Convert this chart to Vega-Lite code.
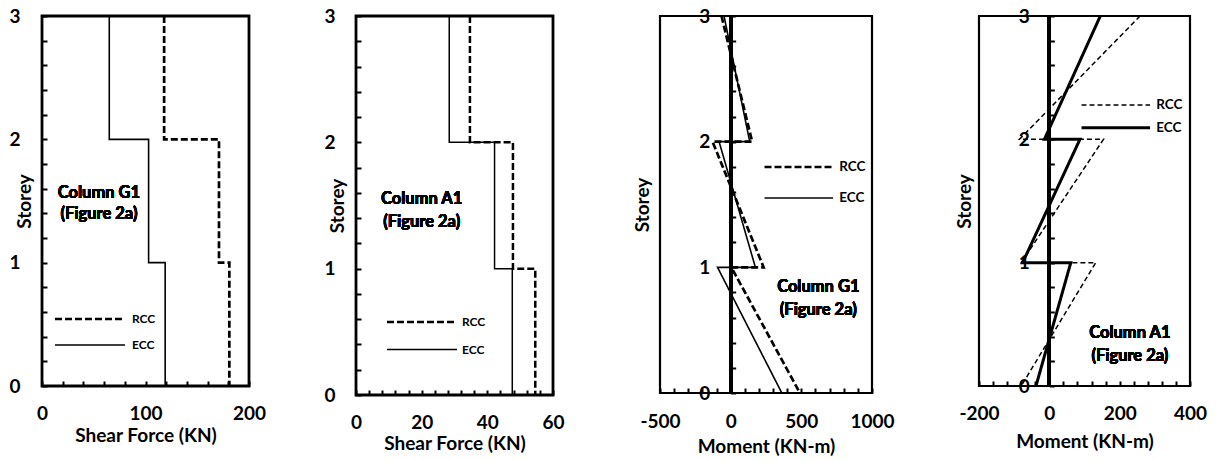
{
  "$schema": "https://vega.github.io/schema/vega-lite/v6.json",
  "background": "white",
  "padding": {"left": 7, "top": 5, "right": 5, "bottom": 0},
  "config": {
    "font": "Lato",
    "view": {"stroke": "black", "strokeWidth": 2.8},
    "axis": {
      "labelFont": "Lato", "labelFontWeight": "bold", "labelFontSize": 19, "labelColor": "black",
      "titleFont": "Lato", "titleFontWeight": "bold", "titleFontSize": 19, "titleColor": "black",
      "domain": false, "tickColor": "black", "tickWidth": 2, "tickSize": 5,
      "grid": false, "labelOverlap": false, "labelFlush": false, "labelBound": false
    },
    "text": {"font": "Lato", "fontWeight": "bold", "color": "black"}
  },
  "bounds": "flush",
  "spacing": 107,
  "resolve": {
    "scale": {"strokeDash": "independent", "strokeWidth": "independent"},
    "legend": {"strokeDash": "independent", "strokeWidth": "independent"}
  },
  "hconcat": [
    {
      "width": 207, "height": 370,
      "data": {"values": [
        {"series": "ECC", "step": 1, "shear": 65, "storey": 3},
        {"series": "ECC", "step": 2, "shear": 65, "storey": 2},
        {"series": "ECC", "step": 3, "shear": 103, "storey": 2},
        {"series": "ECC", "step": 4, "shear": 103, "storey": 1},
        {"series": "ECC", "step": 5, "shear": 119, "storey": 1},
        {"series": "ECC", "step": 6, "shear": 119, "storey": 0},
        {"series": "RCC", "step": 1, "shear": 118, "storey": 3},
        {"series": "RCC", "step": 2, "shear": 118, "storey": 2},
        {"series": "RCC", "step": 3, "shear": 171, "storey": 2},
        {"series": "RCC", "step": 4, "shear": 171, "storey": 1},
        {"series": "RCC", "step": 5, "shear": 181, "storey": 1},
        {"series": "RCC", "step": 6, "shear": 181, "storey": 0}
      ]},
      "layer": [
        {
          "mark": {"type": "line", "color": "black"},
          "encoding": {
            "x": {"field": "shear", "type": "quantitative",
              "scale": {"domain": [0, 200], "nice": false, "zero": false},
              "axis": {"title": "Shear Force (KN)", "offset": -5, "labelOverlap": false, "tickCount": 100,
                "values": [0, 20, 40, 60, 80, 100, 120, 140, 160, 180, 200],
                "labelExpr": "datum.value % 100 === 0 ? '' + datum.value : ''",
                "labelBaseline": "middle", "labelPadding": 27,
                "titleBaseline": "middle", "titleY": 54}},
            "y": {"field": "storey", "type": "quantitative",
              "scale": {"domain": [0, 3], "nice": false},
              "axis": {"title": "Storey", "offset": -5, "labelOverlap": false, "tickCount": 100,
                "values": [0, 0.2, 0.4, 0.6, 0.8, 1, 1.2, 1.4, 1.6, 1.8, 2, 2.2, 2.4, 2.6, 2.8, 3],
                "labelExpr": "datum.value % 1 === 0 ? '' + datum.value : ''",
                "labelPadding": 22, "titleBaseline": "middle", "titleX": -23}},
            "order": {"field": "step", "type": "quantitative"},
            "strokeDash": {"field": "series", "type": "nominal",
              "scale": {"domain": ["RCC", "ECC"], "range": [[7, 3], [1, 0]]},
              "legend": {"title": null, "orient": "none", "legendX": 11.5, "legendY": 296, "padding": 0,
                "symbolType": "stroke", "symbolSize": 4900, "symbolStrokeColor": "black",
                "clipHeight": 14, "rowPadding": 12, "labelOffset": 5.5,
                "labelFont": "Lato", "labelFontWeight": "bold", "labelFontSize": 12, "labelColor": "black"}},
            "strokeWidth": {"field": "series", "type": "nominal",
              "scale": {"domain": ["RCC", "ECC"], "range": [2.7, 1.6]},
              "legend": {"title": null, "orient": "none", "legendX": 11.5, "legendY": 296, "padding": 0,
                "symbolType": "stroke", "symbolSize": 4900, "symbolStrokeColor": "black",
                "clipHeight": 14, "rowPadding": 12, "labelOffset": 5.5,
                "labelFont": "Lato", "labelFontWeight": "bold", "labelFontSize": 12, "labelColor": "black"}}
          }
        },
        {
          "mark": {"type": "text", "fontSize": 16.5, "lineHeight": 21, "align": "center", "baseline": "middle"},
          "encoding": {"x": {"datum": 55}, "y": {"datum": 1.563}, "text": {"value": ["Column G1", "(Figure 2a)"]}}
        }
      ]
    },
    {
      "width": 197, "height": 379,
      "data": {"values": [
        {"series": "ECC", "step": 1, "shear": 28.4, "storey": 3},
        {"series": "ECC", "step": 2, "shear": 28.4, "storey": 2},
        {"series": "ECC", "step": 3, "shear": 42.2, "storey": 2},
        {"series": "ECC", "step": 4, "shear": 42.2, "storey": 1},
        {"series": "ECC", "step": 5, "shear": 47.6, "storey": 1},
        {"series": "ECC", "step": 6, "shear": 47.6, "storey": 0},
        {"series": "RCC", "step": 1, "shear": 34.7, "storey": 3},
        {"series": "RCC", "step": 2, "shear": 34.7, "storey": 2},
        {"series": "RCC", "step": 3, "shear": 47.8, "storey": 2},
        {"series": "RCC", "step": 4, "shear": 47.8, "storey": 1},
        {"series": "RCC", "step": 5, "shear": 54.6, "storey": 1},
        {"series": "RCC", "step": 6, "shear": 54.6, "storey": 0}
      ]},
      "layer": [
        {
          "mark": {"type": "line", "color": "black"},
          "encoding": {
            "x": {"field": "shear", "type": "quantitative",
              "scale": {"domain": [0, 60], "nice": false, "zero": false},
              "axis": {"title": "Shear Force (KN)", "offset": -5, "labelOverlap": false, "tickCount": 100,
                "values": [0, 4, 8, 12, 16, 20, 24, 28, 32, 36, 40, 44, 48, 52, 56, 60],
                "labelExpr": "datum.value % 20 === 0 ? '' + datum.value : ''",
                "labelBaseline": "middle", "labelPadding": 27,
                "titleBaseline": "middle", "titleY": 53}},
            "y": {"field": "storey", "type": "quantitative",
              "scale": {"domain": [0, 3], "nice": false},
              "axis": {"title": "Storey", "offset": -5, "labelOverlap": false, "tickCount": 100,
                "values": [0, 0.2, 0.4, 0.6, 0.8, 1, 1.2, 1.4, 1.6, 1.8, 2, 2.2, 2.4, 2.6, 2.8, 3],
                "labelExpr": "datum.value % 1 === 0 ? '' + datum.value : ''",
                "labelPadding": 21, "titleBaseline": "middle", "titleX": -24}},
            "order": {"field": "step", "type": "quantitative"},
            "strokeDash": {"field": "series", "type": "nominal",
              "scale": {"domain": ["RCC", "ECC"], "range": [[7, 3], [1, 0]]},
              "legend": {"title": null, "orient": "none", "legendX": 29.5, "legendY": 299, "padding": 0,
                "symbolType": "stroke", "symbolSize": 4900, "symbolStrokeColor": "black",
                "clipHeight": 14, "rowPadding": 13.6, "labelOffset": 3.5,
                "labelFont": "Lato", "labelFontWeight": "bold", "labelFontSize": 12, "labelColor": "black"}},
            "strokeWidth": {"field": "series", "type": "nominal",
              "scale": {"domain": ["RCC", "ECC"], "range": [2.5, 1.5]},
              "legend": {"title": null, "orient": "none", "legendX": 29.5, "legendY": 299, "padding": 0,
                "symbolType": "stroke", "symbolSize": 4900, "symbolStrokeColor": "black",
                "clipHeight": 14, "rowPadding": 13.6, "labelOffset": 3.5,
                "labelFont": "Lato", "labelFontWeight": "bold", "labelFontSize": 12, "labelColor": "black"}}
          }
        },
        {
          "mark": {"type": "text", "fontSize": 16.5, "lineHeight": 23, "align": "center", "baseline": "middle"},
          "encoding": {"x": {"datum": 20}, "y": {"datum": 1.549}, "text": {"value": ["Column A1", "(Figure 2a)"]}}
        }
      ]
    },
    {
      "width": 212, "height": 377,
      "view": {"stroke": "black", "strokeWidth": 2.2},
      "data": {"values": [
        {"series": "ECC", "step": 1, "moment": -47, "storey": 3},
        {"series": "ECC", "step": 2, "moment": 135, "storey": 2},
        {"series": "ECC", "step": 3, "moment": -82, "storey": 2},
        {"series": "ECC", "step": 4, "moment": 175, "storey": 1},
        {"series": "ECC", "step": 5, "moment": -93, "storey": 1},
        {"series": "ECC", "step": 6, "moment": 362, "storey": 0},
        {"series": "RCC", "step": 1, "moment": -65, "storey": 3},
        {"series": "RCC", "step": 2, "moment": 152, "storey": 2},
        {"series": "RCC", "step": 3, "moment": -128, "storey": 2},
        {"series": "RCC", "step": 4, "moment": 233, "storey": 1},
        {"series": "RCC", "step": 5, "moment": 5, "storey": 1},
        {"series": "RCC", "step": 6, "moment": 490, "storey": 0}
      ]},
      "layer": [
        {
          "mark": {"type": "rule", "color": "black", "strokeWidth": 3.3},
          "encoding": {"x": {"datum": 0}}
        },
        {
          "mark": {"type": "line", "color": "black"},
          "encoding": {
            "x": {"field": "moment", "type": "quantitative",
              "scale": {"domain": [-500, 1000], "nice": false, "zero": false},
              "axis": {"title": "Moment (KN-m)", "offset": -5, "labelOverlap": false, "tickCount": 100,
                "values": [-500, -400, -300, -200, -100, 0, 100, 200, 300, 400, 500, 600, 700, 800, 900, 1000],
                "labelExpr": "datum.value % 500 === 0 ? '' + datum.value : ''",
                "labelBaseline": "middle", "labelPadding": 28,
                "titleBaseline": "middle", "titleY": 58}},
            "y": {"field": "storey", "type": "quantitative",
              "scale": {"domain": [0, 3], "nice": false},
              "axis": {"title": "Storey", "offset": -75.67, "labelOverlap": false, "tickCount": 100,
                "values": [0, 0.2, 0.4, 0.6, 0.8, 1, 1.2, 1.4, 1.6, 1.8, 2, 2.2, 2.4, 2.6, 2.8, 3],
                "labelExpr": "datum.value % 1 === 0 ? '' + datum.value : ''",
                "labelPadding": 21, "titleBaseline": "middle", "titleX": -93}},
            "order": {"field": "step", "type": "quantitative"},
            "strokeDash": {"field": "series", "type": "nominal",
              "scale": {"domain": ["RCC", "ECC"], "range": [[7, 3], [1, 0]]},
              "legend": {"title": null, "orient": "none", "legendX": 102.8, "legendY": 144, "padding": 0,
                "symbolType": "stroke", "symbolSize": 4700, "symbolStrokeColor": "black",
                "clipHeight": 14, "rowPadding": 17, "labelOffset": 4.5,
                "labelFont": "Lato", "labelFontWeight": "bold", "labelFontSize": 13.5, "labelColor": "black"}},
            "strokeWidth": {"field": "series", "type": "nominal",
              "scale": {"domain": ["RCC", "ECC"], "range": [2.7, 1.6]},
              "legend": {"title": null, "orient": "none", "legendX": 102.8, "legendY": 144, "padding": 0,
                "symbolType": "stroke", "symbolSize": 4700, "symbolStrokeColor": "black",
                "clipHeight": 14, "rowPadding": 17, "labelOffset": 4.5,
                "labelFont": "Lato", "labelFontWeight": "bold", "labelFontSize": 13.5, "labelColor": "black"}}
          }
        },
        {
          "mark": {"type": "text", "fontSize": 16.5, "lineHeight": 23, "align": "center", "baseline": "middle"},
          "encoding": {"x": {"datum": 620}, "y": {"datum": 0.846}, "text": {"value": ["Column G1", "(Figure 2a)"]}}
        }
      ]
    },
    {
      "width": 211, "height": 370,
      "view": {"stroke": "black", "strokeWidth": 2.2},
      "data": {"values": [
        {"series": "ECC", "step": 1, "moment": 145, "storey": 3},
        {"series": "ECC", "step": 2, "moment": -14, "storey": 2},
        {"series": "ECC", "step": 3, "moment": 87, "storey": 2},
        {"series": "ECC", "step": 4, "moment": -76, "storey": 1},
        {"series": "ECC", "step": 5, "moment": 61, "storey": 1},
        {"series": "ECC", "step": 6, "moment": -38, "storey": 0},
        {"series": "RCC", "step": 1, "moment": 258, "storey": 3},
        {"series": "RCC", "step": 2, "moment": -85, "storey": 2},
        {"series": "RCC", "step": 3, "moment": 154, "storey": 2},
        {"series": "RCC", "step": 4, "moment": -80, "storey": 1},
        {"series": "RCC", "step": 5, "moment": 132, "storey": 1},
        {"series": "RCC", "step": 6, "moment": -80, "storey": 0}
      ]},
      "layer": [
        {
          "mark": {"type": "rule", "color": "black", "strokeWidth": 3.3},
          "encoding": {"x": {"datum": 0}}
        },
        {
          "mark": {"type": "line", "color": "black"},
          "encoding": {
            "x": {"field": "moment", "type": "quantitative",
              "scale": {"domain": [-200, 400], "nice": false, "zero": false},
              "axis": {"title": "Moment (KN-m)", "offset": -5, "labelOverlap": false, "tickCount": 100,
                "values": [-200, -160, -120, -80, -40, 0, 40, 80, 120, 160, 200, 240, 280, 320, 360, 400],
                "labelExpr": "datum.value % 200 === 0 ? '' + datum.value : ''",
                "labelBaseline": "middle", "labelPadding": 27,
                "titleBaseline": "middle", "titleY": 60}},
            "y": {"field": "storey", "type": "quantitative",
              "scale": {"domain": [0, 3], "nice": false},
              "axis": {"title": "Storey", "offset": -75.33, "labelOverlap": false, "tickCount": 100,
                "values": [0, 0.2, 0.4, 0.6, 0.8, 1, 1.2, 1.4, 1.6, 1.8, 2, 2.2, 2.4, 2.6, 2.8, 3],
                "labelExpr": "datum.value % 1 === 0 ? '' + datum.value : ''",
                "labelPadding": 20, "titleBaseline": "middle", "titleX": -89.7}},
            "order": {"field": "step", "type": "quantitative"},
            "strokeDash": {"field": "series", "type": "nominal",
              "scale": {"domain": ["RCC", "ECC"], "range": [[5, 3], [1, 0]]},
              "legend": {"title": null, "orient": "none", "legendX": 100.8, "legendY": 82, "padding": 0,
                "symbolType": "stroke", "symbolSize": 4700, "symbolStrokeColor": "black",
                "clipHeight": 14, "rowPadding": 8.7, "labelOffset": 4.5,
                "labelFont": "Lato", "labelFontWeight": "bold", "labelFontSize": 13.5, "labelColor": "black"}},
            "strokeWidth": {"field": "series", "type": "nominal",
              "scale": {"domain": ["RCC", "ECC"], "range": [1.5, 3]},
              "legend": {"title": null, "orient": "none", "legendX": 100.8, "legendY": 82, "padding": 0,
                "symbolType": "stroke", "symbolSize": 4700, "symbolStrokeColor": "black",
                "clipHeight": 14, "rowPadding": 8.7, "labelOffset": 4.5,
                "labelFont": "Lato", "labelFontWeight": "bold", "labelFontSize": 13.5, "labelColor": "black"}}
          }
        },
        {
          "mark": {"type": "text", "fontSize": 16.5, "lineHeight": 23, "align": "center", "baseline": "middle"},
          "encoding": {"x": {"datum": 229}, "y": {"datum": 0.428}, "text": {"value": ["Column A1", "(Figure 2a)"]}}
        }
      ]
    }
  ]
}
